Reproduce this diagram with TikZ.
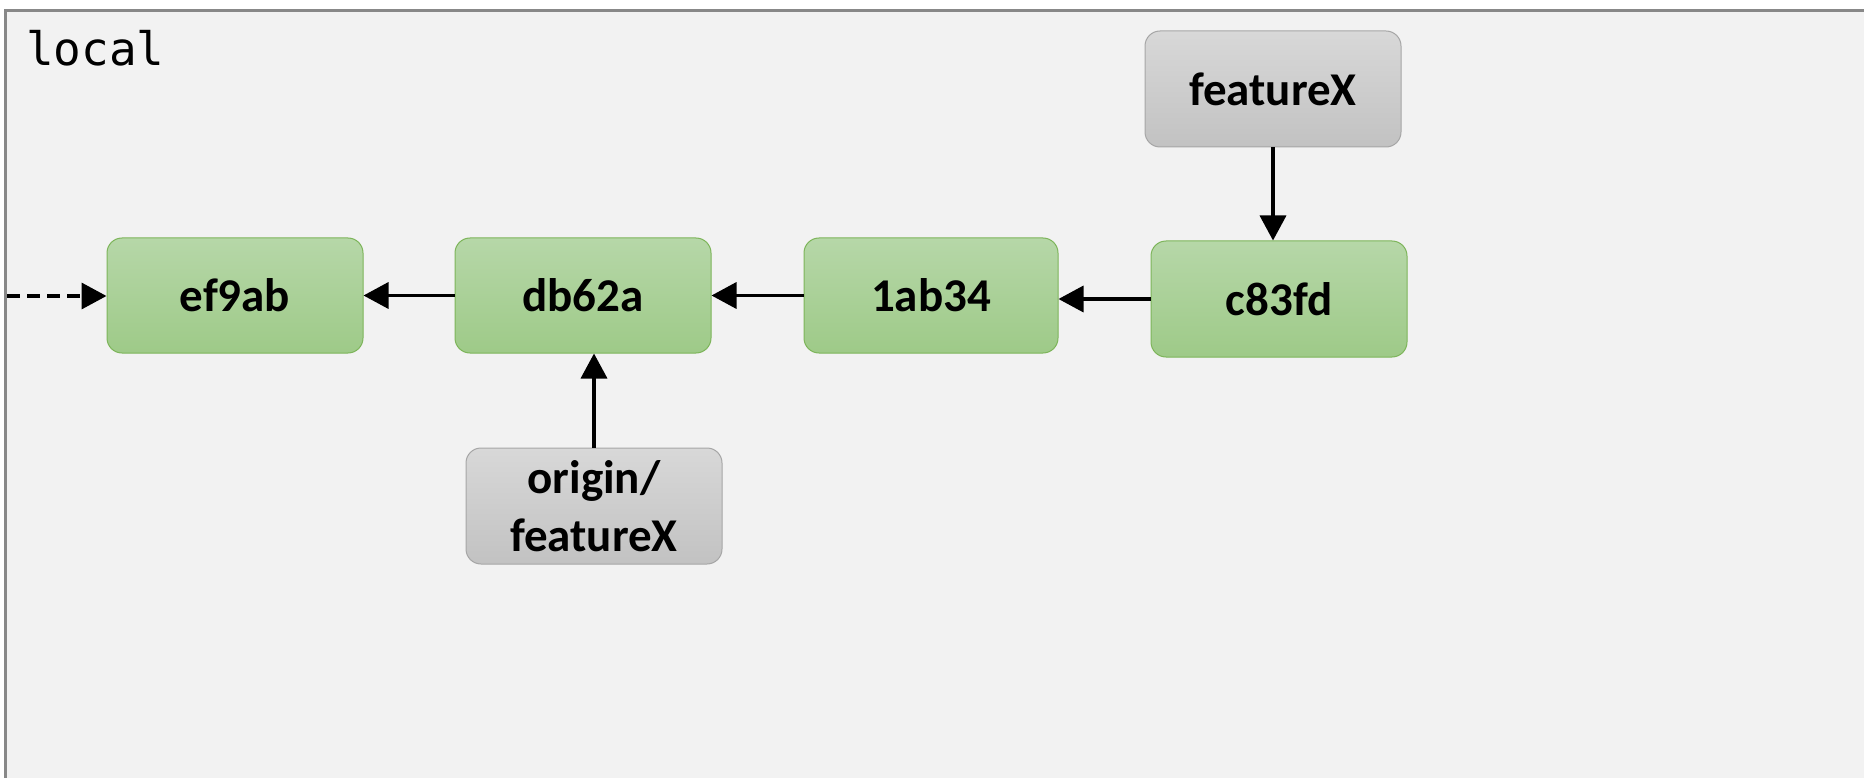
\documentclass[tikz,border=0pt]{standalone}
\usepackage{fontspec}
\setmainfont{Carlito}
\newfontfamily\monofam{DejaVu Sans Mono}
\usetikzlibrary{arrows.meta}
\definecolor{bgc}{HTML}{F2F2F2}
\definecolor{framec}{HTML}{888888}
\definecolor{gtop}{HTML}{B6D7A8}
\definecolor{gbot}{HTML}{9ECA88}
\definecolor{gline}{HTML}{7DB55A}
\definecolor{ytop}{HTML}{D8D8D8}
\definecolor{ybot}{HTML}{C2C2C2}
\definecolor{yline}{HTML}{A6A6A6}
\tikzset{
  commit/.style={rectangle, rounded corners=15pt, draw=gline, line width=1pt,
    top color=gtop, bottom color=gbot, minimum width=256pt, minimum height=115pt,
    font=\bfseries\fontsize{47}{56}\selectfont, inner sep=0pt},
  branch/.style={rectangle, rounded corners=15pt, draw=yline, line width=1pt,
    top color=ytop, bottom color=ybot, minimum width=256pt, minimum height=116pt,
    font=\bfseries\fontsize{47}{58}\selectfont, align=center, inner sep=0pt},
  link/.style={line width=3.5pt, -{Triangle[length=25pt,width=26pt]}},
  dlink/.style={link, dash pattern=on 13pt off 7pt}
}
\begin{document}
\begin{tikzpicture}[x=1pt,y=-1pt]
\useasboundingbox (0,0) rectangle (1864,778);
\fill[white] (0,0) rectangle (1864,778);
\fill[bgc] (5.5,10.5) rectangle (1875,790);
\draw[framec, line width=2.8pt] (5.5,790) -- (5.5,10.5) -- (1875,10.5);
\node[anchor=base west, font=\monofam\fontsize{46}{54}\selectfont, inner sep=0pt] (lbl) at (26,66) {local};
\node[commit] (ef) at (235,295.5) {ef9ab};
\node[commit] (db) at (583,295.5) {db62a};
\node[commit, minimum width=254pt] (ab) at (931,295.5) {1ab34};
\node[commit, minimum height=116pt] (c8) at (1279,299) {c83fd};
\node[branch] (fx) at (1273,89) {featureX};
\node[branch] (ofx) at (594,506) {origin/\\featureX};
\coordinate (start) at (7,296);
\draw[dlink] (start) -- (ef.west |- start);
\draw[link] (db.west) -- (db.west -| ef.east);
\draw[link] (ab.west) -- (ab.west -| db.east);
\draw[link] (c8.west) -- (c8.west -| ab.east);
\draw[link] (fx.south) -- (fx.south |- c8.north);
\draw[link] (ofx.north) -- (ofx.north |- db.south);
\end{tikzpicture}
\end{document}
